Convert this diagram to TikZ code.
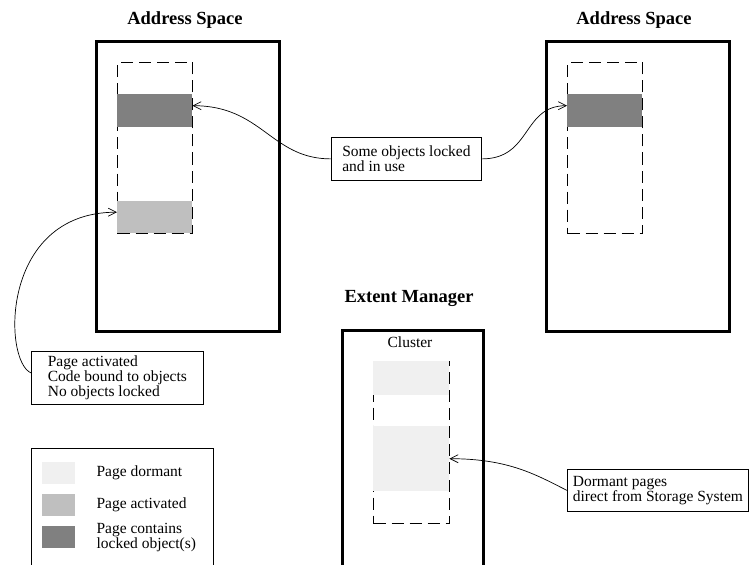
\documentclass[tikz,border=0pt]{standalone}
\usepackage{fontspec}
\setmainfont{Liberation Serif}
\usetikzlibrary{arrows.meta,calc,positioning}
\definecolor{pagelocked}{gray}{0.5}
\definecolor{pageactive}{gray}{0.75}
\definecolor{pagedormant}{gray}{0.94}
\newcommand{\notefont}{\fontsize{15.5}{15}\selectfont}
\newcommand{\titlefont}{\fontsize{18.5}{20}\selectfont\bfseries}
\tikzset{%
        space/.style = {draw, line width=2.8pt, anchor=north west, inner sep=0pt},
        pageset/.style = {draw, dash pattern=on 12pt off 6pt, line width=1pt,
                anchor=north west, inner sep=0pt},
        band/.style = {anchor=north west, inner sep=0pt},
        note/.style = {draw, line width=0.8pt, anchor=north west, align=left,
                inner sep=0pt, font=\notefont},
        title/.style = {font=\titlefont, anchor=base},
        pointer/.style = {line width=0.7pt, -{Straight Barb[length=8pt,width=8pt]}}
}

\begin{document}
\begin{tikzpicture}[x=1pt, y=1pt, node distance=21pt]
        \useasboundingbox (0,0) rectangle (751,-564);
        \clip (0,0) rectangle (751,-564);

        % address spaces
        \node[title] (tl) at (185,-25) {Address Space};
        \node[space, minimum width=183, minimum height=290] (asL) at (95,-40) {};
        \node[pageset, minimum width=75, minimum height=171] (setL) at (117,-62) {};
        \node[band, fill=pagelocked, minimum width=75, minimum height=33] (darkL) at (117,-94) {};
        \node[band, fill=pageactive, minimum width=75, minimum height=32] (actL) at (117,-201) {};

        \node[title] (tr) at (634,-25) {Address Space};
        \node[space, minimum width=183, minimum height=290] (asR) at (545,-40) {};
        \node[pageset, minimum width=75, minimum height=171] (setR) at (567,-62) {};
        \node[band, fill=pagelocked, minimum width=75, minimum height=33] (darkR) at (567,-94) {};

        % extent manager
        \node[title] (te) at (409,-302) {Extent Manager};
        \node[space, minimum width=141, minimum height=300] (em) at (341,-329) {};
        \node[font=\notefont, anchor=base] (cl) at (410,-347) {Cluster};
        \node[pageset, minimum width=76, minimum height=162] (setE) at (373,-361) {};
        \node[band, fill=pagedormant, minimum width=76, minimum height=34] (dormA) at (373,-361) {};
        \node[band, fill=pagedormant, minimum width=76, minimum height=65] (dormB) at (373,-426) {};

        % notes
        \node[note, minimum width=150, minimum height=43] (lock) at (331,-137)
                {Some objects locked\\and in use};
        \node[note, minimum width=172, minimum height=53] (act) at (31,-351)
                {Page activated\\Code bound to objects\\No objects locked};
        \node[note, minimum width=181, minimum height=42] (dorm) at (567,-469)
                {Dormant pages\\direct from Storage System};

        \draw[pointer] (lock.west) .. controls +(-60,0) and +(70,0) .. ([yshift=5]darkL.east);
        \draw[pointer] (lock.east) .. controls +(50,0) and +(-45,0) .. ([yshift=5]darkR.west);
        \draw[pointer] ([yshift=5]act.west) .. controls +(-28,12) and +(-117,0) .. ([yshift=5]actL.west);
        \draw[pointer] (dorm.west) .. controls +(-30,15) and +(60,0) .. (dormB.east);

        % legend
        \node[space, line width=0.8pt, minimum width=182, minimum height=140] (key) at (31,-448) {};
        \node[band, fill=pagedormant, minimum width=33, minimum height=22] (k1) at (42,-462) {};
        \node[band, fill=pageactive, minimum width=33, minimum height=22] (k2) at (42,-494) {};
        \node[band, fill=pagelocked, minimum width=33, minimum height=22] (k3) at (42,-526) {};
        \node[font=\notefont, inner sep=0pt] (t1) [right=of k1] {Page dormant};
        \node[font=\notefont, inner sep=0pt] (t2) [right=of k2] {Page activated};
        \node[font=\notefont, inner sep=0pt, align=left] (t3) [right=of k3] {Page contains\\locked object(s)};
\end{tikzpicture}
\end{document}
